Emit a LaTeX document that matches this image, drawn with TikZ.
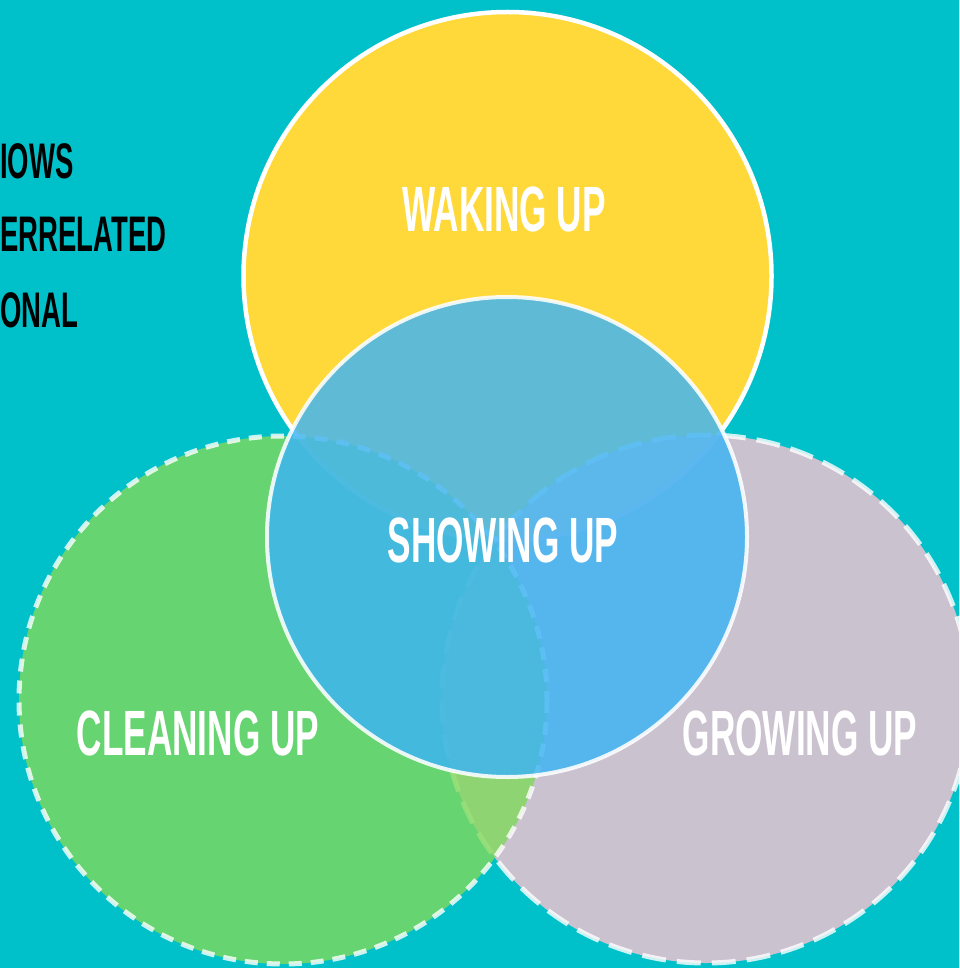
\documentclass[tikz,border=0pt]{standalone}
\usepackage{fontspec}
\newfontfamily\bebas[FakeStretch=0.55]{Liberation Sans Bold}
\definecolor{bg}{RGB}{0,193,202}
\definecolor{sun}{RGB}{255,216,58}
\definecolor{leaf}{RGB}{128,217,91}
\definecolor{mist}{RGB}{239,195,210}
\definecolor{sky}{RGB}{62,180,245}
\begin{document}
\begin{tikzpicture}[x=1pt,y=-1pt,
  yellowring/.style={fill=sun,draw=white,line width=4.5pt},
  grayring/.style={fill=mist,fill opacity=0.85,draw=white,draw opacity=0.8,line width=5pt,dash pattern=on 24pt off 11pt},
  greenring/.style={fill=leaf,fill opacity=0.8,draw=white,draw opacity=0.8,line width=5pt,dash pattern=on 13pt off 9pt},
  bluering/.style={fill=sky,fill opacity=0.83,draw=white,draw opacity=0.88,line width=4pt},
  biglabel/.style={text=white,inner sep=0pt,font=\bebas\fontsize{64}{64}\selectfont},
  sidelabel/.style={text=black,inner sep=0pt,anchor=north west,font=\bebas\fontsize{50}{50}\selectfont}]
\useasboundingbox (0,0) rectangle (959,968);
\clip (0,0) rectangle (959,968);
\fill[bg] (0,0) rectangle (959,968);
\coordinate (cy) at (507.5,276);
\coordinate (cg) at (706,699);
\coordinate (cl) at (283,700);
\coordinate (cb) at (507,537);
\path[yellowring] (cy) circle (264);
\path[grayring] (cg) circle (264);
\path[greenring] (cl) circle (264);
\path[bluering] (cb) circle (240);
\node[biglabel] (waking) at (504,209) {WAKING UP};
\node[biglabel] (showing) at (503,540) {SHOWING UP};
\node[biglabel] (cleaning) at (198,733) {CLEANING UP};
\node[biglabel] (growing) at (800,733) {GROWING UP};
\node[sidelabel] (t1) at (0,143) {IOWS};
\node[sidelabel] (t2) at (0,217) {ERRELATED};
\node[sidelabel] (t3) at (0,292) {ONAL};
\end{tikzpicture}
\end{document}
